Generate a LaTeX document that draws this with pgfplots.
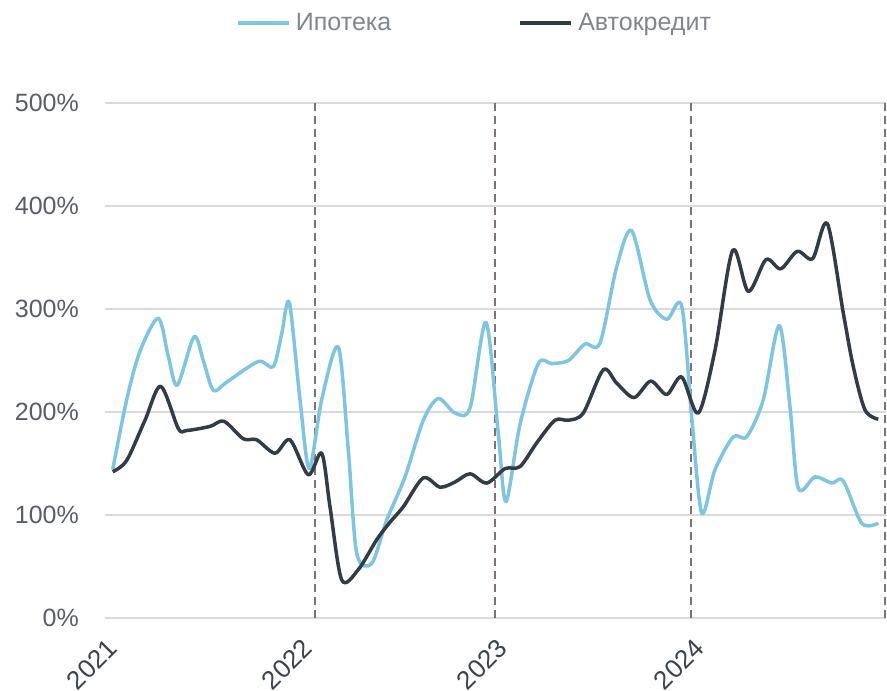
\documentclass[border=0pt]{standalone}
\usepackage{pgfplots}
\pgfplotsset{compat=1.18}
\usepackage{pgfplotstable}
\usepackage{fontspec}
\setmainfont{Liberation Sans}
\definecolor{ipo}{HTML}{7EC4E3}
\definecolor{avto}{HTML}{323C46}
\definecolor{gridc}{HTML}{DADADA}
\definecolor{dashc}{HTML}{7D7370}
\definecolor{ytc}{HTML}{595E65}
\definecolor{xtc}{HTML}{3A424B}
\definecolor{legc}{HTML}{80868C}

\pgfplotstableread{
x y
112.7 144
126.7 212
140 259
158.3 291
168.3 254
177.3 226
194 273
203.3 250
213.3 221
226.7 229
258.3 249
273.3 244
281.7 276
289.3 306
300 212
309.3 145
321.7 212
338.3 263
348.3 163
356.7 63
371.7 53
386.7 95
405 137
423.3 192
438.3 213
455 199
470 204
486 287
498.3 179
506 113
520 188
538.3 247
551.7 247
568.3 250
585 266
600 267
616.7 341
631.7 376
650 309
666.7 290
681.7 303
691.7 195
701.7 102
715 144
733.3 176
746.7 176
763.3 212
779.3 284
790 205
798.3 126
815 137
831.7 131
843.3 133
861.7 92
878.3 92
}\ipoteka

\pgfplotstableread{
x y
112.7 142
126.7 153
145 192
160.7 225
178.3 184
186.7 182
210 186
224 191
243.3 174
256.7 173
275 160
290 173
308.3 139
321.7 160
330 108
341.7 37
358.3 47
376.7 76
390 93
403.3 108
423.3 136
440 127
455 132
470 140
486.7 131
505 145
520 147
536.7 170
555 192
568.3 192
583.3 199
603.3 241
616.7 228
634 214
650.7 230
666.7 217
681.7 234
698.3 199
715 260
732.7 357
748.3 317
766 348
780.7 339
797.3 356
812.7 349
827.3 383
843.3 296
853.3 244
865 202
878.3 193
}\avto

\begin{document}
\begin{tikzpicture}
\useasboundingbox (-105pt,-73pt) rectangle (782pt,618pt);
\begin{axis}[
  at={(0pt,0pt)}, anchor=south west,
  scale only axis, width=781pt, height=515pt,
  xmin=105, xmax=886, ymin=0, ymax=500,
  clip=false,
  axis line style={draw=none},
  major tick length=0pt,
  ytick={0,100,200,300,400,500},
  yticklabels={0\%,100\%,200\%,300\%,400\%,500\%},
  ymajorgrids,
  grid style={gridc, line width=2pt},
  xtick={106,301,496,693},
  xticklabels={2021,2022,2023,2024},
  xticklabel style={yshift=-19pt, rotate=45, anchor=north east, inner sep=0pt,
    font=\fontsize{26}{31}\selectfont, text=xtc},
  yticklabel style={anchor=east, inner sep=0pt, xshift=-26pt,
    font=\fontsize{25}{30}\selectfont, text=ytc},
  extra x ticks={315,495,691,885},
  extra x tick labels={},
  extra x tick style={grid=major, major grid style={dashc, line width=1.5pt, dash pattern=on 8pt off 5pt}},
  legend columns=2,
  legend style={draw=none, fill=none, at={(0.1677,1.1553)}, anchor=west,
    inner sep=0pt, outer sep=0pt, column sep=5pt,
    font=\fontsize{25}{30}\selectfont, text=legc,
    nodes={inner sep=0pt},
    /tikz/every even column/.append style={column sep=127pt}},
  legend cell align=left,
  legend image code/.code={\draw[#1, line width=4pt] (0pt,0pt) -- (51pt,0pt);},
]
\addplot[ipo, line width=3.5pt, smooth, tension=0.5, line join=round, no markers] table[x=x,y=y] {\ipoteka};
\addlegendentry{Ипотека}
\addplot[avto, line width=3.5pt, smooth, tension=0.5, line join=round, no markers] table[x=x,y=y] {\avto};
\addlegendentry{Автокредит}
\end{axis}
\end{tikzpicture}
\end{document}
